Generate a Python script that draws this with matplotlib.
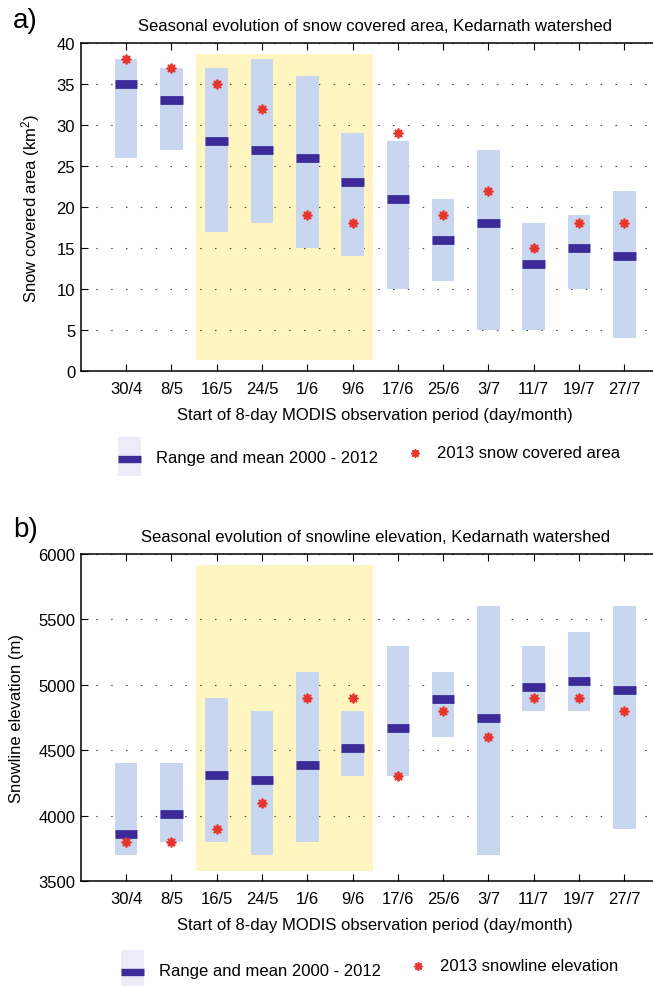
import numpy as np
import matplotlib.pyplot as plt
from matplotlib.patches import Rectangle
from matplotlib.lines import Line2D

plt.rcParams['font.family'] = ['Liberation Sans', 'DejaVu Sans']
plt.rcParams['font.size'] = 12
plt.rcParams['mathtext.default'] = 'regular'

periods = ['30/4', '8/5', '16/5', '24/5', '1/6', '9/6',
           '17/6', '25/6', '3/7', '11/7', '19/7', '27/7']

# snow covered area (km2), 2000-2012 range/mean and 2013
sca_min = [26, 27, 17, 18, 15, 14, 10, 11, 5, 5, 10, 4]
sca_max = [38, 37, 37, 38, 36, 29, 28, 21, 27, 18, 19, 22]
sca_mean = [35, 33, 28, 27, 26, 23, 21, 16, 18, 13, 15, 14]
sca_2013 = [38, 37, 35, 32, 19, 18, 29, 19, 22, 15, 18, 18]

# snowline elevation (m)
sl_min = [3700, 3800, 3800, 3700, 3800, 4300, 4300, 4600, 3700, 4800, 4800, 3900]
sl_max = [4400, 4400, 4900, 4800, 5100, 4800, 5300, 5100, 5600, 5300, 5400, 5600]
sl_mean = [3860, 4013, 4310, 4272, 4390, 4520, 4671, 4892, 4745, 4984, 5030, 4962]
sl_2013 = [3800, 3800, 3900, 4100, 4900, 4900, 4300, 4800, 4600, 4900, 4900, 4800]

BAR = '#c8d6f0'
MEAN = '#3b2a98'
STAR = '#e8352b'
YELLOW = '#fff5c0'
LAV = '#eeebf8'

W, H = 653, 987
fig = plt.figure(figsize=(W / 100, H / 100), dpi=100)


def px(x, y):
    return x / W, 1 - y / H


def draw_panel(ax, lo, hi, mean, obs, ylim, yticks, shade, title, ylabel):
    x = np.arange(1, len(periods) + 1)
    ax.add_patch(Rectangle((2.55, shade[0]), 3.9, shade[1] - shade[0],
                           color=YELLOW, lw=0, zorder=0.2))
    ax.bar(x, np.subtract(hi, lo), bottom=lo, width=0.5, color=BAR, zorder=2)
    lc = ax.hlines(mean, x - 0.25, x + 0.25, colors=MEAN, lw=6.3, zorder=3)
    lc.set_capstyle('butt')
    ax.plot(x, obs, ls='none', marker=(8, 2, 0), ms=7, mew=1.3,
            color=STAR, zorder=4)
    ax.set_xlim(0, 13)
    ax.set_ylim(*ylim)
    ax.set_yticks(yticks)
    ax.set_xticks(x)
    ax.set_xticklabels(periods)
    ax.set_axisbelow(True)
    ax.yaxis.grid(True, linestyle=(0, (1.35, 12)), lw=0.8, color='#444444')
    ax.tick_params(direction='in', top=True, length=5, width=0.8)
    ax.tick_params(axis='x', pad=7.5)
    ax.tick_params(axis='y', pad=4)
    for s in ax.spines.values():
        s.set_linewidth(1.1)
    ax.set_title(title, fontsize=12, pad=9.5)
    ax.set_xlabel('Start of 8-day MODIS observation period (day/month)', labelpad=7.5)
    ax.set_ylabel(ylabel)


def draw_legend(y0, y1, xoff, obs_text):
    fig.patches.append(Rectangle(px(118 + xoff, y1), 23 / W, (y1 - y0) / H,
                                 transform=fig.transFigure, color=LAV, lw=0))
    ym = (y0 + y1) / 2 + 2
    fig.lines.append(Line2D([(118 + xoff) / W, (141 + xoff) / W], [1 - ym / H] * 2,
                            transform=fig.transFigure, lw=5.3, color=MEAN,
                            solid_capstyle='butt'))
    fig.text(*px(156 + xoff, ym - 1), 'Range and mean 2000 - 2012', va='center')
    fig.lines.append(Line2D([(415 + xoff) / W], [1 - (ym - 6) / H], ls='none',
                            marker=(8, 2, 0), ms=6, mew=1.2, color=STAR,
                            transform=fig.transFigure))
    fig.text(*px(437 + xoff, ym - 6), obs_text, va='center')


ax1 = fig.add_axes([80.7 / W, 1 - 372 / H, 589 / W, 328 / H])
draw_panel(ax1, sca_min, sca_max, sca_mean, sca_2013, (0, 40), range(0, 41, 5),
           (1.3, 38.7), 'Seasonal evolution of snow covered area, Kedarnath watershed',
           'Snow covered area (km$^2$)')
ax1.yaxis.set_label_coords(-0.066, 0.5)

ax2 = fig.add_axes([80.7 / W, 1 - 882 / H, 589 / W, 327 / H])
draw_panel(ax2, sl_min, sl_max, sl_mean, sl_2013, (3500, 6000), range(3500, 6001, 500),
           (3575, 5915), 'Seasonal evolution of snowline elevation, Kedarnath watershed',
           'Snowline elevation (m)')
ax2.yaxis.set_label_coords(-0.096, 0.5)

fig.text(*px(13, 21), 'a)', fontsize=20, va='center')
fig.text(*px(13, 530), 'b)', fontsize=20, va='center')

draw_legend(438, 477, 0, '2013 snow covered area')
draw_legend(951, 990, 3, '2013 snowline elevation')

fig.savefig('out.png', dpi=100)
